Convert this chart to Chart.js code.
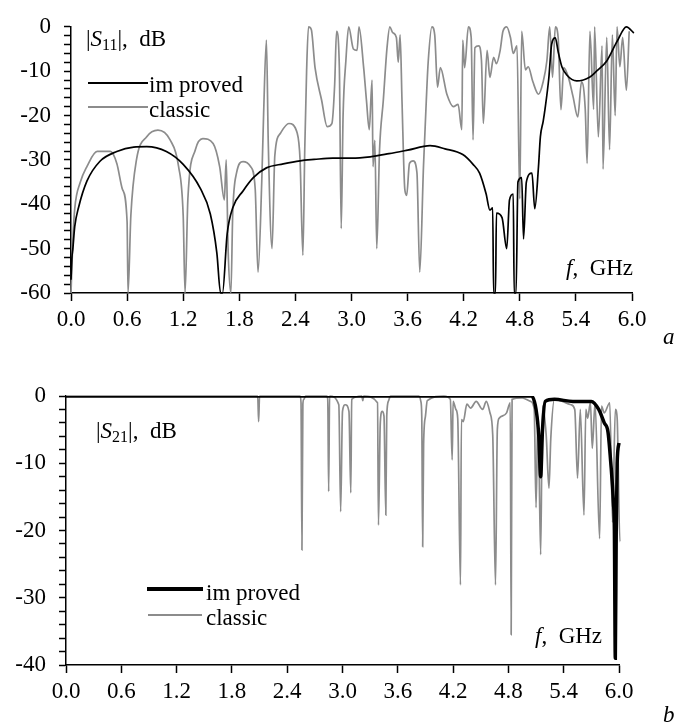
<!DOCTYPE html>
<html>
<head>
<meta charset="utf-8">
<script src="https://cdn.jsdelivr.net/npm/chart.js@4.4.0/dist/chart.umd.min.js"></script>
<style>
  body { margin: 0; background: #fff; }
  #page { position: relative; width: 676px; height: 722px; overflow: hidden; font-family: "Liberation Serif", serif; color: #000; }
  .box { position: absolute; left: 0; width: 676px; }
  .txt { position: absolute; font-size: 23px; line-height: 23px; white-space: nowrap; }
  .txt sub { font-size: 16px; line-height: 0; vertical-align: -4px; }
  .ln { position: absolute; }
</style>
</head>
<body>
<div id="page">
  <div class="box" style="top:0;height:360px"><canvas id="chartA" width="676" height="360"></canvas></div>
  <div class="box" style="top:360px;height:362px"><canvas id="chartB" width="676" height="362"></canvas></div>

  <!-- panel a labels -->
  <div class="txt" style="left:86px;top:27px">|<i>S</i><sub>11</sub>|,&nbsp; dB</div>
  <div class="ln" style="left:88px;top:82px;width:60px;height:2px;background:#000"></div>
  <div class="txt" style="left:149px;top:73px">im proved</div>
  <div class="ln" style="left:88px;top:106px;width:60px;height:2px;background:#8c8c8c"></div>
  <div class="txt" style="left:149px;top:98px">classic</div>
  <div class="txt" style="left:566px;top:256px"><i>f</i>,&nbsp; GHz</div>
  <div class="txt" style="left:663px;top:325px"><i>a</i></div>

  <!-- panel b labels -->
  <div class="txt" style="left:96px;top:419px">|<i>S</i><sub>21</sub>|,&nbsp; dB</div>
  <div class="ln" style="left:147px;top:587px;width:56px;height:4px;background:#000"></div>
  <div class="txt" style="left:206px;top:581px">im proved</div>
  <div class="ln" style="left:148px;top:614px;width:54px;height:2px;background:#8c8c8c"></div>
  <div class="txt" style="left:206px;top:606px">classic</div>
  <div class="txt" style="left:535px;top:624px"><i>f</i>,&nbsp; GHz</div>
  <div class="txt" style="left:663px;top:703px"><i>b</i></div>
</div>

<script>
// frequency axis, GHz
const freqTicks = [0, 0.6, 1.2, 1.8, 2.4, 3.0, 3.6, 4.2, 4.8, 5.4, 6.0];

// |S11|, improved filter
const s11ImpF = [0, 0.01, 0.02, 0.04, 0.08, 0.17, 0.31, 0.49, 0.67, 0.81,
  1.02, 1.2, 1.38, 1.49, 1.56, 1.6, 1.62, 1.67, 1.73, 1.84,
  1.95, 2.09, 2.27, 2.45, 2.6, 2.8, 3.0, 3.2, 3.4, 3.6,
  3.84, 4.0, 4.19, 4.3, 4.37, 4.44, 4.48, 4.51, 4.52, 4.54,
  4.55, 4.61, 4.66, 4.69, 4.73, 4.74, 4.76, 4.78, 4.82, 4.84,
  4.87, 4.93, 4.96, 5.0, 5.02, 5.05, 5.07, 5.11, 5.14, 5.18,
  5.21, 5.25, 5.3, 5.41, 5.55, 5.62, 5.73, 5.84, 5.94, 6.02];
const s11ImpDb = [-57, -52, -50, -45, -40.8, -34.8, -30.3, -28.1, -27.1, -27,
  -28.1, -31, -36.3, -42.2, -51, -60, -60, -46.7, -40.8, -37,
  -34, -31.8, -30.9, -30.2, -29.9, -29.6, -29.6, -29.3, -28.6, -27.8,
  -26.8, -27.5, -28.8, -31, -33, -37.7, -41.3, -40.8, -60, -60,
  -42, -43, -50, -39, -37.7, -60, -60, -35, -34, -47.8,
  -35, -33, -41, -31.5, -24.8, -21.3, -18.5, -11.6, -4, -2.5,
  -5.6, -9, -10.8, -12.2, -11.3, -10, -7.7, -3.3, 0, -1.4];

// |S11|, classic filter
const s11ClsF = [0, 0.02, 0.04, 0.1, 0.17, 0.28, 0.42, 0.49, 0.55, 0.6,
  0.61, 0.64, 0.7, 0.81, 0.93, 1.06, 1.15, 1.2, 1.22, 1.25,
  1.33, 1.41, 1.52, 1.59, 1.64, 1.66, 1.68, 1.71, 1.73, 1.77,
  1.84, 1.92, 1.97, 2.0, 2.04, 2.06, 2.09, 2.11, 2.15, 2.18,
  2.24, 2.33, 2.42, 2.45, 2.48, 2.5, 2.52, 2.54, 2.57, 2.61,
  2.68, 2.74, 2.79, 2.82, 2.84, 2.87, 2.89, 2.91, 2.94, 2.97,
  3.02, 3.06, 3.08, 3.13, 3.16, 3.19, 3.22, 3.23, 3.25, 3.27,
  3.3, 3.34, 3.38, 3.41, 3.44, 3.48, 3.5, 3.52, 3.54, 3.57,
  3.59, 3.62, 3.66, 3.7, 3.73, 3.77, 3.8, 3.82, 3.86, 3.89,
  3.92, 3.95, 4.02, 4.09, 4.14, 4.18, 4.19, 4.21, 4.25, 4.28,
  4.3, 4.32, 4.36, 4.39, 4.41, 4.45, 4.48, 4.52, 4.55, 4.59,
  4.62, 4.66, 4.7, 4.73, 4.77, 4.8, 4.82, 4.86, 4.89, 4.94,
  5.0, 5.05, 5.09, 5.12, 5.15, 5.18, 5.21, 5.24, 5.27, 5.32,
  5.37, 5.42, 5.46, 5.5, 5.52, 5.55, 5.59, 5.6, 5.64, 5.68,
  5.69, 5.73, 5.76, 5.79, 5.82, 5.84, 5.87, 5.9, 5.94, 5.97];
const s11ClsDb = [-60, -48, -41, -35, -31.5, -28.1, -28.1, -30.8, -36.6, -44,
  -60, -42.6, -30, -24.8, -23.3, -25.5, -31.4, -42.6, -60, -38.8,
  -27.7, -25.2, -26.3, -31.5, -39, -30, -50, -60, -41.9, -33,
  -30.4, -31.5, -36.5, -55.3, -35, -19.7, -3, -26.3, -50, -29,
  -24, -21.8, -24, -30, -51.5, -27.7, -9.8, 0, -0.6, -9.2,
  -16.5, -22.5, -21.8, -13, -1, -9, -45.5, -20, -7.6, 0,
  -5, -5.3, 0, -9.2, -16.6, -23.2, -12, -31.5, -25.6, -50,
  -27.7, -16.6, -4.7, 0, -1.3, -2.4, -8, -1.8, -16.6, -36.6,
  -38, -30.8, -30.2, -32.9, -55.3, -31.4, -16.6, -8, 0, -1.8,
  -13.6, -9.2, -15.2, -18, -17.5, -23.2, -3, -9.2, 0, -2.4,
  -25.5, -4.7, -4.3, -7.6, -21.8, -5.3, -11.4, -6.9, -8.3, -5.3,
  -1, 0, -2.4, -6, -4.3, -38.8, -1, -9.7, -9, -12.4,
  -15.2, -12.4, -7.6, 0, -11.4, 0, -2.4, -18.7, -9.2, -11.4,
  -15.8, -20.3, -12.4, -18.6, -30.8, -1, -18.6, 0, -24.8, -4.3,
  -32.1, -2.4, -27.7, -1.8, -20, 0, -9, -2.4, -14.3, -1];

// |S21|, improved filter
const s21ImpF = [0, 5.05, 5.1, 5.13, 5.15, 5.17, 5.2, 5.3, 5.5, 5.7,
  5.78, 5.84, 5.88, 5.91, 5.94, 5.95, 5.96, 5.97, 5.98, 6.0, 6.02];
const s21ImpDb = [0, 0, -2, -6, -12, -5, -0.8, -0.5, -0.8, -0.8,
  -2, -4, -5.3, -9.8, -16, -20, -39, -20, -10, -7, -4.6];

// |S21|, classic filter
const s21ClsF = [0, 2.08, 2.09, 2.1, 2.54, 2.55, 2.56, 2.57, 2.58, 2.6,
  2.83, 2.84, 2.85, 2.86, 2.96, 2.98, 3.0, 3.03, 3.07, 3.09,
  3.1, 3.21, 3.22, 3.23, 3.38, 3.39, 3.41, 3.43, 3.45, 3.47,
  3.48, 3.5, 3.52, 3.83, 3.85, 3.86, 3.87, 3.88, 3.9, 3.92, 4.1, 4.17,
  4.19, 4.2, 4.23, 4.25, 4.28, 4.29, 4.31, 4.35, 4.39, 4.45,
  4.52, 4.56, 4.6, 4.63, 4.66, 4.68, 4.7, 4.78, 4.82, 4.83,
  4.84, 4.95, 5.04, 5.08, 5.1, 5.12, 5.13, 5.15, 5.17, 5.21,
  5.24, 5.26, 5.3, 5.48, 5.52, 5.55, 5.58, 5.62, 5.64, 5.66,
  5.69, 5.71, 5.74, 5.79, 5.81, 5.84, 5.9, 5.93, 5.96, 5.98,
  6.01, 6.03];
const s21ClsDb = [0, 0, -3.8, 0, 0, -1, -22.9, -1.2, -0.5, 0,
  0, -0.5, -14.2, 0, -1.3, -17.2, -2.3, -1.3, -2.3, -14.4,
  -0.5, 0, -0.7, 0, -1, -19.2, -4, -2.3, -3, -17.7,
  -3, -0.7, 0, 0, -0.8, -3, -22.4, -7.2, -3, -0.7, 0, -0.5,
  -9.5, -0.8, -2, -3.3, -28.1, -3.5, -3.8, -1.2, -1.8, -0.8,
  -2, -0.8, -2.5, -5.8, -28.1, -5, -3.3, -2.5, -1, -35.5,
  -0.5, -0.3, -0.8, -2, -16.6, -3, -7.5, -23.6, -1.5, -5.8,
  -13.7, -6.3, -0.5, -1.3, -2, -12.2, -2, -17.7, -2, -3.3,
  -1, -7.8, -1, -21.2, -1.5, -2.5, -1, -18.8, -2, -3.3,
  -21.7, -9.5];

const GRAY = '#8c8c8c';
const FONT = { family: "'Liberation Serif', serif", size: 23 };

function toPoints(xs, ys) {
  return xs.map((x, i) => ({ x: x, y: ys[i] }));
}

// shared axis styling, plot box is fixed through afterFit
function makeOptions(yMin, yLabelWidth, xAxisHeight, pad) {
  return {
    responsive: false,
    animation: false,
    devicePixelRatio: 1,
    layout: { padding: pad },
    plugins: { legend: { display: false }, tooltip: { enabled: false } },
    elements: { line: { cubicInterpolationMode: 'monotone' } },
    scales: {
      x: {
        type: 'linear', min: 0, max: 6,
        afterBuildTicks: s => { s.ticks = freqTicks.map(v => ({ value: v })); },
        afterFit: s => { s.height = xAxisHeight; },
        ticks: { callback: v => v.toFixed(1), font: FONT, color: '#000', padding: 5, maxRotation: 0, autoSkip: false },
        grid: { drawOnChartArea: false, tickLength: 8, tickColor: '#000', tickWidth: 1.5 },
        border: { color: '#000', width: 1.5 }
      },
      y: {
        min: yMin, max: 0,
        afterFit: s => { s.width = yLabelWidth; },
        ticks: { stepSize: 2, autoSkip: false, font: FONT, color: '#000', padding: 13,
          callback: v => (v % 10 === 0 ? String(v) : '') },
        grid: { drawOnChartArea: false, tickLength: 7, tickColor: '#000', tickWidth: 1.5 },
        border: { color: '#000', width: 1.5 }
      }
    }
  };
}

new Chart(document.getElementById('chartA'), {
  type: 'scatter',
  data: {
    datasets: [
      { label: 'improved', data: toPoints(s11ImpF, s11ImpDb), showLine: true, borderColor: '#000', borderWidth: 1.7, pointRadius: 0, clip: 4 },
      { label: 'classic', data: toPoints(s11ClsF, s11ClsDb), showLine: true, borderColor: GRAY, borderWidth: 1.7, pointRadius: 0, clip: 4 }
    ]
  },
  options: makeOptions(-60, 71, 50, { top: 24, right: 44, bottom: 17, left: 0 })
});

new Chart(document.getElementById('chartB'), {
  type: 'scatter',
  data: {
    datasets: [
      { label: 'improved', data: toPoints(s21ImpF, s21ImpDb), showLine: true, borderColor: '#000', borderWidth: 3.5, pointRadius: 0,
        clip: { left: 4, top: 0, right: 4, bottom: 4 } },
      { label: 'classic', data: toPoints(s21ClsF, s21ClsDb), showLine: true, borderColor: GRAY, borderWidth: 1.7, pointRadius: 0, clip: 4 }
    ]
  },
  options: makeOptions(-40, 66, 50, { top: 36, right: 57, bottom: 7, left: 0 })
});
</script>
</body>
</html>
